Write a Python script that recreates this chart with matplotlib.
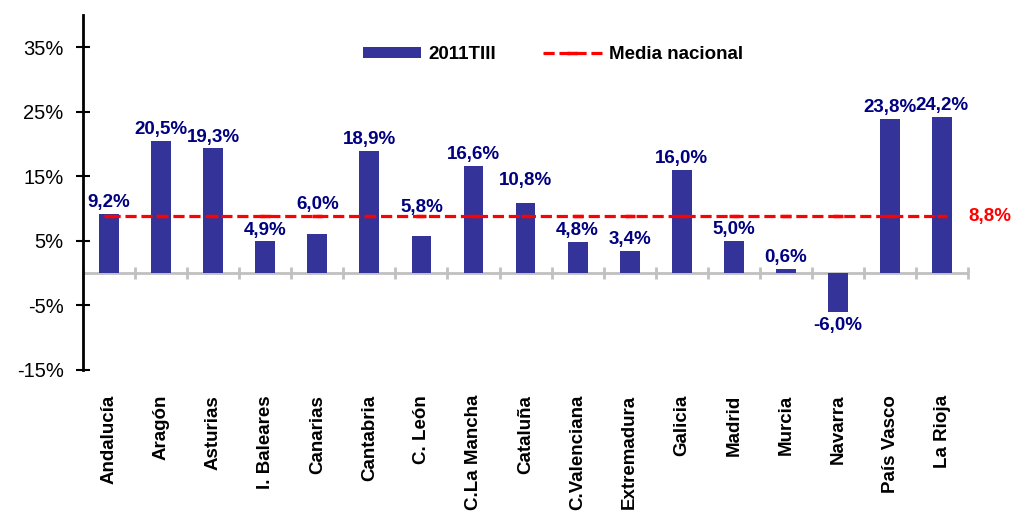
import matplotlib.pyplot as plt
import numpy as np

plt.rcParams['font.family'] = ['Liberation Sans', 'DejaVu Sans']

# datos
regiones = ['Andalucía', 'Aragón', 'Asturias', 'I. Baleares', 'Canarias', 'Cantabria',
            'C. León', 'C.La Mancha', 'Cataluña', 'C.Valenciana', 'Extremadura',
            'Galicia', 'Madrid', 'Murcia', 'Navarra', 'País Vasco', 'La Rioja']
valores = [9.2, 20.5, 19.3, 4.9, 6.0, 18.9, 5.8, 16.6, 10.8, 4.8, 3.4, 16.0, 5.0, 0.6, -6.0, 23.8, 24.2]
media_nacional = 8.8
serie = '2011TIII'
serie_media = 'Media nacional'
yticks = [-15, -5, 5, 15, 25, 35]

# desplazamiento extra de algunas etiquetas (puntos) para no pisar la media
extra_etiqueta = [0, 0, 0, 0, 13, 0, 12, 0, 8, 0, 0, 0, 0, 0, 0, 0, 0]

n = len(regiones)
x = np.arange(n)
color_barra = '#333399'

fig = plt.figure(figsize=(10.15, 5.11), dpi=100)
ax = fig.add_axes([0.0818, 0.276, 0.872, 0.695])

barras = ax.bar(x, valores, width=0.38, color=color_barra, label=serie, zorder=2)
linea, = ax.plot(x, [media_nacional] * n, color='red', linestyle=(0, (3.5, 1.5)), linewidth=2.3,
                 marker='_', markersize=7, markeredgewidth=2.5, label=serie_media, zorder=3)

# etiquetas de valor
for xi, v, d in zip(x, valores, extra_etiqueta):
    txt = ('%.1f%%' % v).replace('.', ',')
    if v >= 0:
        ax.annotate(txt, (xi, v), xytext=(0, 5 + d), textcoords='offset points',
                    ha='center', va='baseline',
                    fontsize=13.5, fontweight='bold', color='#000080')
    else:
        ax.annotate(txt, (xi, v), xytext=(0, -4), textcoords='offset points',
                    ha='center', va='top',
                    fontsize=13.5, fontweight='bold', color='#000080')

ax.annotate(('%.1f%%' % media_nacional).replace('.', ','), (1.0, media_nacional),
            xycoords=('axes fraction', 'data'), xytext=(0, 0), textcoords='offset points',
            ha='left', va='center', fontsize=13.5, fontweight='bold', color='red')

# ejes
ax.set_xlim(-0.5, n - 0.5)
ax.set_ylim(-15, 40)
ax.set_yticks(yticks)
ax.set_yticklabels(['%d%%' % t for t in yticks], fontsize=14.5)
ax.tick_params(axis='y', direction='inout', length=10, width=1.5, pad=9)

for s in ['top', 'right', 'bottom']:
    ax.spines[s].set_visible(False)
ax.spines['left'].set_linewidth(2)

# eje horizontal en cero
ax.axhline(0, color='#C0C0C0', linewidth=2, zorder=1)
bordes = np.arange(n + 1) - 0.5
ax.plot(bordes, np.zeros(n + 1), linestyle='none', marker='|', markersize=8,
        markeredgewidth=2, color='#C0C0C0', zorder=1, clip_on=False)

ax.set_xticks(x)
ax.set_xticklabels(regiones, rotation=90, fontsize=13.5, fontweight='bold', va='top')
ax.tick_params(axis='x', length=0, pad=18)

fig.legend([barras, linea], [serie, serie_media], loc='center',
           bbox_to_anchor=(0.545, 0.893), ncol=2, frameon=False,
           handlelength=3.1, handleheight=0.5, handletextpad=0.4, columnspacing=2.5,
           prop={'weight': 'bold', 'size': 13.5})

fig.savefig('out.png', dpi=100)
